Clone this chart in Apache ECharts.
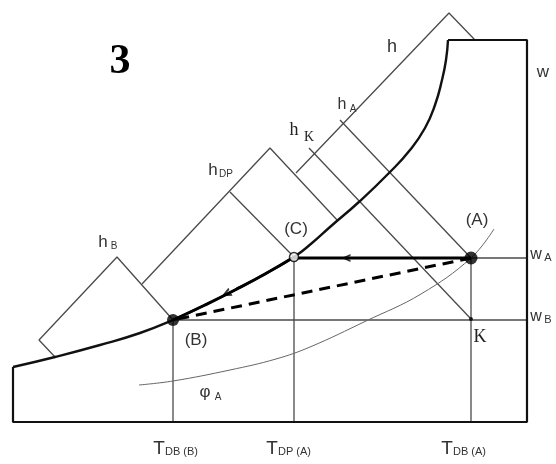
<!DOCTYPE html>
<html>
<head>
<meta charset="utf-8">
<script src="https://cdn.jsdelivr.net/npm/echarts@6/dist/echarts.min.js"></script>
<style>
html,body{margin:0;padding:0;background:#fff;}
#chart{width:556px;height:464px;}
</style>
</head>
<body>
<div id="chart"></div>
<script>
// Schematic psychrometric diagram, coordinates in chart units (x right, y down)
const saturationCurve = [[13,367],[55,357],[100,345],[140,333],[173,320],[205,305],[235,290],[265,274],[294,257],[312,243],[330,227],[360,201],[390,172],[410,150],[425,128],[435,105],[442,80],[446,60],[448,40]];
const processCB = [[173,320],[205,305],[235,290],[265,274],[294,257]];
const chartFrame = [[448,40],[527,40],[527,422],[13,422],[13,367]];
const phiACurve = [[139,385],[173,381],[230,370],[276,359],[310,347],[366,321],[421,294],[471,258],[494,229]];
const enthalpyAxisB = [[55,357],[39,340],[117,257],[173,320]];
const enthalpyAxisDP = [[142,284],[270,148],[338,221]];
const enthalpyAxisMain = [[296,173],[449,13],[475,40]];
const lineHDP = [[230,192],[294,257]];
const lineHK = [[309,148],[471,319]];
const lineHA = [[340,120],[471,258]];
const lineTdbB = [[173,320],[173,422]];
const lineTdpA = [[294,257],[294,422]];
const lineTdbA = [[471,258],[471,422]];
const lineWA = [[471,258],[527,258]];
const lineWB = [[173,320],[527,320]];
const processAC = [[471,258],[294,258]];
const processAB = [[471,258],[173,320]];
const pointA = [471,258];
const pointB = [173,320];
const pointC = [294,257];
const pointK = [471,319];
const arrowAC = [346,258];
const arrowCB = [226,294];

const thin = {color:'#4a4a4a', width:1.3};
function seg(data, ls, extra){
  return Object.assign({type:'line', data:data, symbol:'none', silent:true, animation:false,
    lineStyle:Object.assign({}, ls), z:2}, extra||{});
}
const chevron = 'path://M10,0 L0,5 L10,10 L10,7.6 L4.2,5 L10,2.4 Z';

const series = [
  seg(enthalpyAxisB, thin),
  seg(enthalpyAxisDP, thin),
  seg(enthalpyAxisMain, thin),
  seg(lineHDP, thin),
  seg(lineHK, thin),
  seg(lineHA, thin),
  seg(lineTdbB, thin),
  seg(lineTdpA, thin),
  seg(lineTdbA, thin),
  seg(lineWA, thin),
  seg(lineWB, thin),
  seg(phiACurve, {color:'#666', width:1}, {smooth:0.4}),
  seg(chartFrame, {color:'#111', width:2.2}, {z:3}),
  seg(saturationCurve, {color:'#111', width:2.4}, {smooth:0.5, z:3}),
  seg(processCB, {color:'#000', width:3}, {smooth:0.5, z:4}),
  seg(processAC, {color:'#000', width:3.2}, {z:4}),
  seg(processAB, {color:'#000', width:3, type:[11,7]}, {z:4}),
  {type:'scatter', data:[arrowAC], symbol:chevron, symbolSize:[9,8], symbolRotate:0, itemStyle:{color:'#000'}, z:6, silent:true, animation:false},
  {type:'scatter', data:[arrowCB], symbol:chevron, symbolSize:[10,9], symbolRotate:27, itemStyle:{color:'#000'}, z:6, silent:true, animation:false},
  {type:'scatter', data:[pointA], symbolSize:13, itemStyle:{color:'#000'}, z:7, silent:true, animation:false},
  {type:'scatter', data:[pointB], symbolSize:12, itemStyle:{color:'#000'}, z:7, silent:true, animation:false},
  {type:'scatter', data:[pointC], symbolSize:9, itemStyle:{color:'#fff', borderColor:'#000', borderWidth:1.5}, z:7, silent:true, animation:false},
  {type:'scatter', data:[pointK], symbolSize:4, itemStyle:{color:'#000'}, z:7, silent:true, animation:false}
];

const sans = '"Liberation Sans", Arial, sans-serif';
const serif = '"Liberation Serif", "Times New Roman", serif';
// text, center x, center y, size, family, weight, color, align
const texts = [
  ['3', 120, 62, 42, serif, 'bold', '#000', 'center'],
  ['h', 392, 47, 18, sans, 'normal', '#333', 'center'],
  ['h', 342, 105, 16, sans, 'normal', '#333', 'center'],
  ['A', 353, 109, 10, sans, 'normal', '#333', 'center'],
  ['h', 294, 130, 18, serif, 'normal', '#222', 'center'],
  ['K', 309, 137, 14, serif, 'normal', '#222', 'center'],
  ['h', 213, 170, 17, sans, 'normal', '#333', 'center'],
  ['DP', 219, 174, 10, sans, 'normal', '#333', 'left'],
  ['h', 103, 242, 17, sans, 'normal', '#333', 'center'],
  ['B', 114, 246, 10, sans, 'normal', '#333', 'center'],
  ['(C)', 296, 229, 17, sans, 'normal', '#333', 'center'],
  ['(A)', 477, 220, 17, sans, 'normal', '#333', 'center'],
  ['(B)', 196, 340, 17, sans, 'normal', '#333', 'center'],
  ['K', 480, 337, 18, serif, 'normal', '#222', 'center'],
  ['φ', 205, 392, 17, sans, 'normal', '#333', 'center'],
  ['A', 218, 397, 10, sans, 'normal', '#333', 'center'],
  ['w', 543, 72, 17, sans, 'normal', '#333', 'center'],
  ['w', 536, 255, 16, sans, 'normal', '#333', 'center'],
  ['A', 548, 258, 11, sans, 'normal', '#333', 'center'],
  ['w', 536, 317, 16, sans, 'normal', '#333', 'center'],
  ['B', 548, 320, 11, sans, 'normal', '#333', 'center'],
  ['T', 159, 449, 19, sans, 'normal', '#333', 'center'],
  ['DB (B)', 165, 452, 11, sans, 'normal', '#333', 'left'],
  ['T', 272, 449, 19, sans, 'normal', '#333', 'center'],
  ['DP (A)', 278, 452, 11, sans, 'normal', '#333', 'left'],
  ['T', 447, 449, 19, sans, 'normal', '#333', 'center'],
  ['DB (A)', 453, 452, 11, sans, 'normal', '#333', 'left']
];

const chart = echarts.init(document.getElementById('chart'), null, {renderer:'canvas'});
chart.setOption({
  backgroundColor:'#fff',
  animation:false,
  grid:{left:0, right:0, top:0, bottom:0},
  xAxis:{type:'value', min:0, max:556, show:false},
  yAxis:{type:'value', min:0, max:464, inverse:true, show:false},
  series:series
});
const graphics = texts.map(function(t){
  const p = chart.convertToPixel({gridIndex:0}, [t[1], t[2]]);
  return {type:'text', x:p[0], y:p[1], silent:true, z:10,
    style:{text:t[0], fontSize:t[3], fontFamily:t[4], fontWeight:t[5], fill:t[6],
      textAlign:t[7], textVerticalAlign:'middle'}};
});
chart.setOption({graphic:graphics});
</script>
</body>
</html>
